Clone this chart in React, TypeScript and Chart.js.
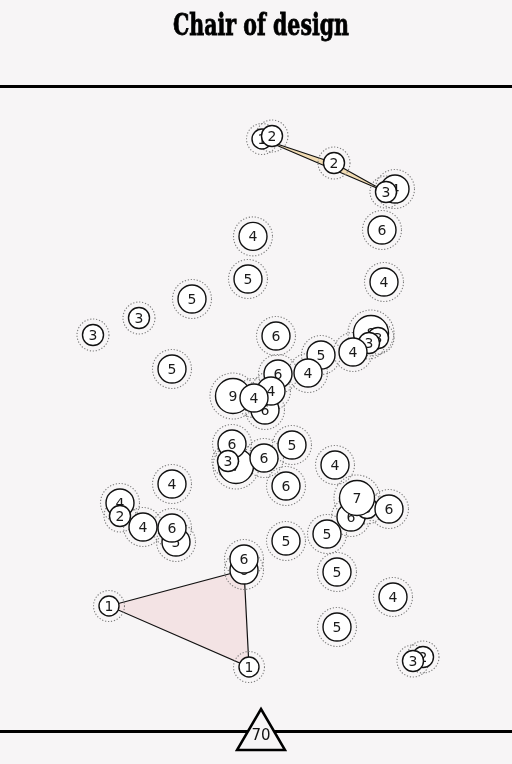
import { useEffect, useRef } from "react"
import { Chart, registerables } from "chart.js"

Chart.register(...registerables)

const pageTitle = "Chair of design"
const totalLabel = "70"

// node positions (layout units: x across 0-128, y up 0-160.5) and the count in each node
// listed in paint order, later nodes sit on top
const nodeX = [
  65.5, 68, 83.5, 98.75, 96.5, 95.5, 63.25, 62, 96, 48, 34.75, 23.25, 69, 43,
  92.75, 94.5, 92.25, 88.25, 80.25, 77,
  66.25, 58.25, 69.5, 67.75, 63.5,
  59, 58, 57, 66, 73, 71.5, 83.75, 87.75, 91.75, 89.25, 97.25, 81.75, 71.5,
  43, 30, 30, 35.75, 44, 43, 61, 61, 27.25, 62.25,
  84.25, 98.25, 84.25, 105.75, 103.25,
]
const nodeY = [
  147.75, 148.5, 141.75, 135.25, 134.5, 125, 123.4, 112.75, 112, 107.75, 103, 98.75, 98.5, 90.25,
  99.25, 98, 96.75, 94.5, 93.75, 89.25,
  80, 83.5, 89, 84.75, 83,
  66, 71.5, 67.25, 68, 71.25, 61, 66.25, 53.25, 55.5, 58, 55.25, 49, 47.25,
  61.5, 56.75, 53.5, 50.75, 47, 50.5, 40, 42.75, 31, 15.75,
  39.5, 33.25, 25.75, 18.25, 17.25,
]
const nodeValues = [
  1, 2, 2, 4, 3, 6, 4, 5, 4, 5, 3, 3, 6, 5,
  8, 3, 3, 4, 5, 4,
  6, 9, 6, 4, 4,
  7, 6, 3, 6, 5, 6, 4, 6, 3, 7, 6, 5, 5,
  4, 4, 2, 4, 5, 6, 6, 6, 1, 1,
  5, 4, 5, 2, 3,
]

// shaded groups, as node indices
const triangleNodes = [46, 44, 47]
const sliverNodes = [0, 2, 4]

const BG = "#f7f5f6"

const radiusFor = (v: number) => (v <= 1 ? 10 : v <= 3 ? 10.5 : v <= 6 ? 14 : 17.5)

const nodePos = (chart: any, i: number) => {
  const el = chart.getDatasetMeta(i).data[0]
  return { x: el.x, y: el.y }
}

const decorPlugin = {
  id: "decor",
  beforeDraw(chart: any) {
    const { ctx, width } = chart
    ctx.save()
    ctx.fillStyle = BG
    ctx.fillRect(0, 0, chart.width, chart.height)
    ctx.fillStyle = "#000"
    ctx.font = "bold 29px 'DejaVu Serif', serif"
    ctx.textAlign = "center"
    ctx.textBaseline = "alphabetic"
    // squeeze the heading to a condensed slab look
    const w = ctx.measureText(pageTitle).width
    const sx = 176 / w
    ctx.translate(width / 2 + 5, 35)
    ctx.scale(sx, 1)
    ctx.fillText(pageTitle, 0, 0)
    ctx.lineWidth = 0.8
    ctx.strokeStyle = "#000"
    ctx.strokeText(pageTitle, 0, 0)
    ctx.setTransform(1, 0, 0, 1, 0, 0)
    ctx.restore()
    ctx.save()
    ctx.fillStyle = "#000"
    ctx.fillRect(0, 85, width, 3)
    ctx.restore()
  },
  beforeDatasetsDraw(chart: any) {
    const { ctx } = chart
    ctx.save()
    const shapes: [number[], string][] = [
      [triangleNodes, "#f3e3e4"],
      [sliverNodes, "#f2dcb3"],
    ]
    for (const [ids, fill] of shapes) {
      ctx.beginPath()
      ids.forEach((id, k) => {
        const p = nodePos(chart, id)
        if (k === 0) ctx.moveTo(p.x, p.y)
        else ctx.lineTo(p.x, p.y)
      })
      ctx.closePath()
      ctx.fillStyle = fill
      ctx.fill()
      ctx.strokeStyle = "#111"
      ctx.lineWidth = 1.2
      ctx.stroke()
    }
    ctx.strokeStyle = "#7a7a7a"
    ctx.lineWidth = 1.1
    ctx.setLineDash([1.2, 1.8])
    nodeValues.forEach((v, i) => {
      const p = nodePos(chart, i)
      ctx.beginPath()
      ctx.arc(p.x, p.y, radiusFor(v) + 5.5, 0, Math.PI * 2)
      ctx.stroke()
    })
    ctx.restore()
  },
  afterDatasetDraw(chart: any, args: any) {
    const el = args.meta.data[0]
    if (!el) return
    const { ctx } = chart
    ctx.save()
    ctx.fillStyle = "#1a1a1a"
    ctx.font = "14px 'DejaVu Sans', sans-serif"
    ctx.textAlign = "center"
    ctx.textBaseline = "middle"
    ctx.fillText(String(nodeValues[args.index]), el.x, el.y + 1)
    ctx.restore()
  },
  afterDraw(chart: any) {
    const { ctx, width } = chart
    const bottom = chart.chartArea.bottom
    const cx = width / 2 + 5
    ctx.save()
    ctx.fillStyle = "#000"
    ctx.fillRect(0, bottom, width, 3)
    ctx.beginPath()
    ctx.moveTo(cx, bottom - 21)
    ctx.lineTo(cx + 24, bottom + 20)
    ctx.lineTo(cx - 24, bottom + 20)
    ctx.closePath()
    ctx.fillStyle = BG
    ctx.fill()
    ctx.strokeStyle = "#000"
    ctx.lineWidth = 2.5
    ctx.stroke()
    ctx.fillStyle = "#111"
    ctx.font = "15px 'DejaVu Sans', sans-serif"
    ctx.textAlign = "center"
    ctx.textBaseline = "middle"
    ctx.fillText(totalLabel, cx, bottom + 6)
    ctx.restore()
  },
}

export default function App() {
  const chartRef = useRef<HTMLCanvasElement>(null)
  const chartInstance = useRef<Chart | null>(null)

  useEffect(() => {
    if (!chartRef.current) return
    if (chartInstance.current) chartInstance.current.destroy()
    const ctx = chartRef.current.getContext("2d")
    if (!ctx) return

    const n = nodeValues.length
    const datasets = nodeValues.map((v, i) => ({
      label: `node ${i}`,
      data: [{ x: nodeX[i], y: nodeY[i], r: radiusFor(v) }],
      backgroundColor: "#ffffff",
      borderColor: "#111111",
      borderWidth: 1.4,
      hoverRadius: 0,
      order: n - i,
      clip: false as const,
    }))

    chartInstance.current = new Chart(ctx, {
      type: "bubble",
      data: { datasets },
      options: {
        animation: false,
        responsive: true,
        maintainAspectRatio: false,
        events: [],
        layout: { autoPadding: false, padding: { top: 88, bottom: 34, left: 0, right: 0 } },
        plugins: {
          legend: { display: false },
          tooltip: { enabled: false },
        },
        scales: {
          x: { type: "linear", min: 0, max: 128, display: false },
          y: { type: "linear", min: 0, max: 160.5, display: false },
        },
      },
      plugins: [decorPlugin],
    })

    return () => {
      if (chartInstance.current) {
        chartInstance.current.destroy()
        chartInstance.current = null
      }
    }
  }, [])

  return (
    <div style={{ position: "fixed", left: 0, top: 0, width: 512, height: 764, background: BG }}>
      <canvas ref={chartRef} />
    </div>
  )
}
